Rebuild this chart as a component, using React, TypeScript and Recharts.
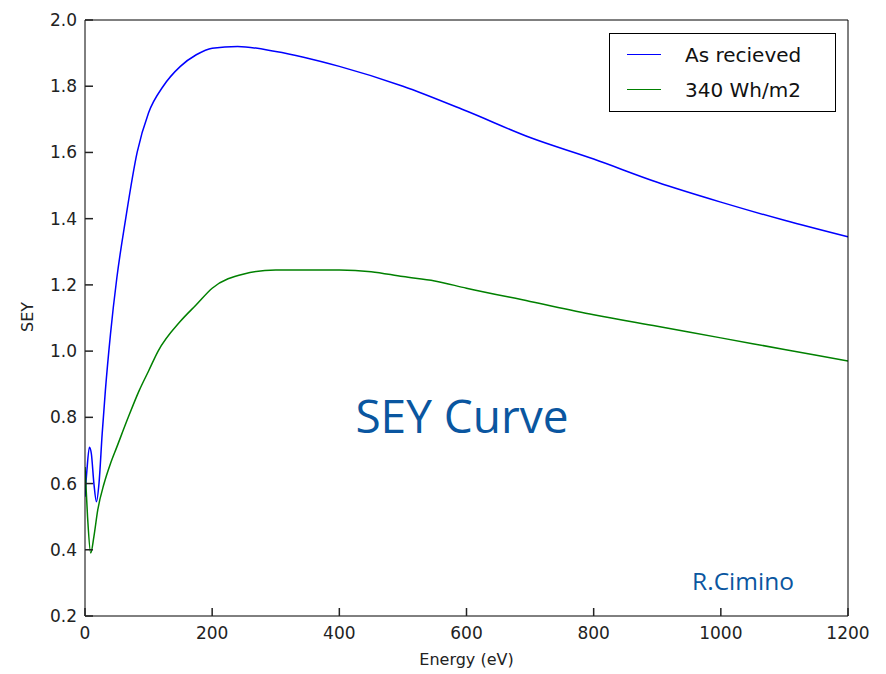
import { LineChart, Line, XAxis, YAxis } from "recharts";

// As recieved
const blueEnergy = [0, 3, 7, 10, 14, 18, 22, 27, 32, 40, 50, 64, 82, 100, 123, 150, 175, 200, 240, 300, 400, 500, 600, 700, 800, 900, 1000, 1100, 1200];
const blueSey = [0.56, 0.64, 0.71, 0.69, 0.6, 0.545, 0.6, 0.75, 0.88, 1.05, 1.22, 1.4, 1.6, 1.72, 1.8, 1.86, 1.895, 1.915, 1.92, 1.905, 1.86, 1.8, 1.725, 1.645, 1.58, 1.51, 1.45, 1.395, 1.345];

// 340 Wh/m2
const greenEnergy = [0, 4, 9, 14, 20, 30, 40, 50, 68, 85, 100, 115, 150, 175, 200, 250, 300, 400, 450, 500, 550, 600, 700, 800, 900, 1000, 1100, 1200];
const greenSey = [0.65, 0.5, 0.39, 0.44, 0.52, 0.6, 0.66, 0.71, 0.8, 0.88, 0.94, 1.0, 1.09, 1.14, 1.19, 1.233, 1.245, 1.245, 1.24, 1.225, 1.212, 1.19, 1.15, 1.11, 1.075, 1.04, 1.005, 0.97];

const xTicks = [0, 200, 400, 600, 800, 1000, 1200];
const yTicks = [0.2, 0.4, 0.6, 0.8, 1.0, 1.2, 1.4, 1.6, 1.8, 2.0];

const seriesNames = ["As recieved", "340 Wh/m2"];
const seriesColors = ["#0000ff", "#008000"];

const blueData = blueEnergy.map((e, i) => ({ e, sey: blueSey[i] }));
const greenData = greenEnergy.map((e, i) => ({ e, sey: greenSey[i] }));

const FONT = "DejaVu Sans, sans-serif";
const NOTE = "#0a56a0";
const TICK_LEN = 8;
const GAP = 8;
const TICK_COLOR = "#222";

// matplotlib-style ticks: short marks pointing into the plot
const BottomTick = (p: any) => {
  const x = Number(p.x);
  const y = Number(p.y);
  return (
    <g>
      <line x1={x} y1={y - GAP} x2={x} y2={y - GAP - TICK_LEN} stroke={TICK_COLOR} strokeWidth={1.5} />
      <text x={x} y={y} dy={15} textAnchor="middle" fill="#222" fontSize={17} fontFamily={FONT}>
        {p.payload.value}
      </text>
    </g>
  );
};

const LeftTick = (p: any) => {
  const x = Number(p.x);
  const y = Number(p.y);
  return (
    <g>
      <line x1={x + GAP} y1={y} x2={x + GAP + TICK_LEN} y2={y} stroke={TICK_COLOR} strokeWidth={1.5} />
      <text x={x} y={y} dy={6} textAnchor="end" fill="#222" fontSize={17} fontFamily={FONT}>
        {Number(p.payload.value).toFixed(1)}
      </text>
    </g>
  );
};

const TopTick = (p: any) => {
  const x = Number(p.x);
  const y = Number(p.y);
  return <line x1={x} y1={y} x2={x} y2={y + TICK_LEN} stroke={TICK_COLOR} strokeWidth={1.5} />;
};

const RightTick = (p: any) => {
  const x = Number(p.x);
  const y = Number(p.y);
  return <line x1={x} y1={y} x2={x - TICK_LEN} y2={y} stroke={TICK_COLOR} strokeWidth={1.5} />;
};

const LegendBox = () => (
  <div
    style={{
      position: "absolute",
      left: 609,
      top: 33,
      border: "1.5px solid #000",
      background: "#fff",
      width: 227,
      height: 79,
      boxSizing: "border-box",
      fontFamily: FONT,
      fontSize: 20,
      color: "#111",
      paddingTop: 3,
    }}
  >
    {seriesNames.map((n, i) => (
      <div key={n} style={{ display: "flex", alignItems: "center", height: 35 }}>
        <div style={{ width: 34, height: 0, borderTop: `1.5px solid ${seriesColors[i]}`, marginLeft: 17, marginRight: 24 }} />
        <span>{n}</span>
      </div>
    ))}
  </div>
);

export default function App() {
  return (
    <div style={{ position: "absolute", left: 0, top: 0, width: 886, height: 674, background: "#fff" }}>
      <LineChart width={886} height={674} margin={{ top: 19, right: 37, bottom: 28, left: 35 }}>
        <XAxis
          xAxisId="b"
          dataKey="e"
          type="number"
          domain={[0, 1200]}
          ticks={xTicks}
          allowDataOverflow
          height={30}
          tickSize={0}
          tickMargin={GAP}
          tickLine={false}
          stroke="#000"
          tick={BottomTick}
          label={{ value: "Energy (eV)", position: "bottom", offset: 8, fill: "#222", fontSize: 16, fontFamily: FONT }}
        />
        <XAxis
          xAxisId="t"
          orientation="top"
          dataKey="e"
          type="number"
          domain={[0, 1200]}
          ticks={xTicks}
          height={1}
          tickSize={0}
          tickMargin={0}
          tickLine={false}
          stroke="#000"
          tick={TopTick}
        />
        <YAxis
          yAxisId="l"
          dataKey="sey"
          type="number"
          domain={[0.2, 2.0]}
          ticks={yTicks}
          width={50}
          tickSize={0}
          tickMargin={GAP}
          tickLine={false}
          stroke="#000"
          tick={LeftTick}
          label={{ value: "SEY", angle: -90, position: "insideLeft", offset: -8, dy: 14, fill: "#222", fontSize: 16, fontFamily: FONT }}
        />
        <YAxis
          yAxisId="r"
          orientation="right"
          dataKey="sey"
          type="number"
          domain={[0.2, 2.0]}
          ticks={yTicks}
          width={1}
          tickSize={0}
          tickMargin={0}
          tickLine={false}
          stroke="#000"
          tick={RightTick}
        />
        <Line
          xAxisId="b"
          yAxisId="l"
          data={blueData}
          dataKey="sey"
          name={seriesNames[0]}
          type="monotone"
          stroke={seriesColors[0]}
          strokeWidth={1.5}
          dot={false}
          isAnimationActive={false}
        />
        <Line
          xAxisId="b"
          yAxisId="l"
          data={greenData}
          dataKey="sey"
          name={seriesNames[1]}
          type="monotone"
          stroke={seriesColors[1]}
          strokeWidth={1.5}
          dot={false}
          isAnimationActive={false}
        />
        <text x={462} y={433} textAnchor="middle" fill={NOTE} fontSize={46} fontFamily="Open Sans, sans-serif">
          SEY Curve
        </text>
        <text x={743} y={590} textAnchor="middle" fill={NOTE} fontSize={24.5} fontFamily="Open Sans, sans-serif">
          R.Cimino
        </text>
      </LineChart>
      <LegendBox />
    </div>
  );
}
